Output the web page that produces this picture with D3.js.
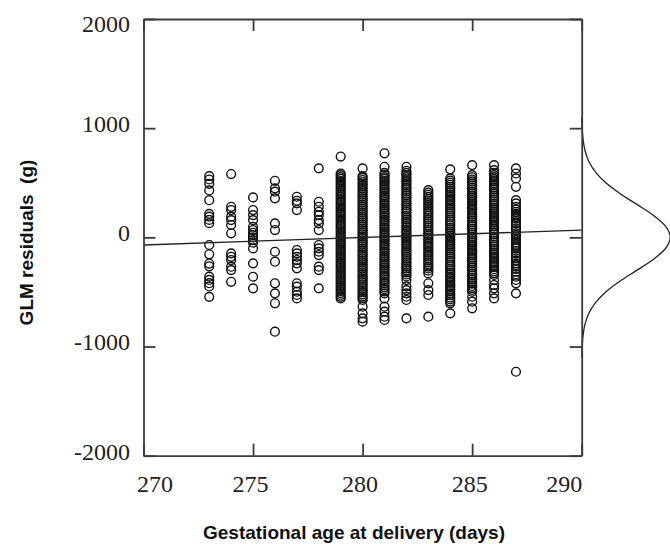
<!DOCTYPE html>
<html>
<head>
<meta charset="utf-8">
<script src="https://cdn.jsdelivr.net/npm/d3@7"></script>
<style>
  body { margin:0; background:#fff; }
  .tick-label { font-family:"Liberation Serif","Times New Roman",serif; font-size:24px; fill:#222; }
  .axis-label { font-family:"Liberation Sans",Arial,sans-serif; font-weight:bold; font-size:19px; fill:#111; white-space:pre; }
</style>
</head>
<body>
<svg id="resid" width="670" height="544"></svg>
<script>
const days = [273, 274, 275, 276, 277, 278, 279, 280, 281, 282, 283, 284, 285, 286, 287];

const r273 = [560, 530, 490, 430, 340, 215, 190, 160, 130, -70, -155, -240, -265, -360, -390, -420, -450, -545];
const r274 = [580, 280, 250, 189, 158, 113, 37, -147, -178, -208, -269, -300, -407];
const r275 = [366, 250, 204, 158, 97, 67, 42, 21, 0, -25, -49, -101, -238, -361, -467];
const r276 = [518, 449, 418, 357, 128, 67, -132, -223, -421, -513, -604, -864];
const r277 = [372, 335, 311, 250, -116, -147, -178, -208, -238, -284, -421, -452, -498, -528, -559];
const r278 = [632, 326, 280, 234, 204, 158, 128, 67, -70, -101, -132, -162, -269, -300, -467];
const r279 = [740, 585, 570, 552, 535, 515, 498, 480, 462, 445, 425, 405, 388, 370, 350, 332, 315, 296, 278, 260,
    240, 222, 205, 186, 168, 150, 130, 112, 95, 76, 58, 40, 20, 3, -15, -35, -52, -70, -90, -108, -125, -145,
    -163, -180, -200, -218, -236, -255, -272, -290, -310, -328, -345, -365, -382, -400, -420, -438, -455, -475,
    -492, -510, -528, -545, -560];
const r280 = [631, 561, 545, 525, 505, 488, 470, 450, 432, 412, 395, 375, 358, 340, 320, 302, 285, 265, 248, 230,
    210, 192, 175, 155, 138, 120, 100, 82, 65, 45, 28, 10, -8, -28, -45, -62, -82, -100, -118, -138, -155, -172,
    -192, -210, -228, -248, -265, -282, -302, -320, -338, -358, -375, -392, -412, -430, -448, -468, -485, -502,
    -522, -540, -556, -574, -635, -696, -742, -772];
const r281 = [770, 646, 590, 572, 552, 535, 515, 498, 478, 460, 442, 422, 405, 385, 368, 350, 330, 312, 295, 275,
    258, 240, 220, 202, 185, 165, 148, 130, 110, 92, 75, 55, 38, 20, 0, -18, -35, -55, -72, -90, -110, -128,
    -145, -165, -182, -200, -220, -238, -255, -275, -292, -310, -330, -348, -365, -385, -402, -420, -440, -458,
    -475, -495, -513, -559, -635, -681, -727, -757];
const r282 = [646, 610, 590, 570, 552, 532, 515, 495, 478, 458, 440, 420, 402, 385, 365, 348, 328, 310, 292, 272,
    255, 235, 218, 198, 180, 162, 142, 125, 105, 88, 68, 50, 32, 12, -5, -25, -42, -62, -80, -100, -118, -136,
    -155, -173, -192, -210, -228, -248, -265, -285, -302, -320, -340, -358, -391, -449, -483, -513, -544, -574, -742];
const r283 = [433, 410, 390, 372, 352, 335, 315, 295, 278, 258, 240, 222, 200, 182, 165, 145, 128, 108, 90, 70,
    52, 32, 15, -5, -22, -42, -60, -80, -98, -118, -135, -155, -172, -192, -210, -230, -248, -268, -285, -305,
    -330, -421, -483, -528, -727];
const r284 = [623, 540, 520, 500, 482, 462, 445, 425, 408, 388, 370, 350, 332, 312, 295, 275, 258, 238, 220, 200,
    182, 162, 145, 125, 108, 88, 70, 50, 32, 12, -5, -25, -42, -62, -80, -100, -118, -138, -155, -175, -192,
    -212, -230, -250, -268, -288, -305, -325, -342, -362, -380, -400, -418, -438, -455, -475, -492, -512, -530,
    -550, -568, -588, -604, -696];
const r285 = [662, 570, 550, 530, 512, 492, 475, 455, 438, 418, 400, 380, 362, 342, 325, 305, 288, 268, 250, 230,
    212, 192, 175, 155, 138, 118, 100, 80, 62, 42, 25, 5, -12, -32, -50, -70, -88, -108, -125, -145, -162, -182,
    -200, -220, -238, -258, -275, -295, -312, -332, -350, -370, -388, -408, -425, -445, -462, -482, -498, -544,
    -589, -650];
const r286 = [662, 616, 590, 570, 552, 532, 515, 495, 478, 458, 440, 420, 402, 382, 365, 345, 328, 308, 290, 270,
    252, 232, 215, 195, 178, 158, 140, 120, 102, 82, 65, 45, 28, 8, -10, -30, -48, -68, -85, -105, -122, -142,
    -160, -180, -198, -218, -235, -255, -272, -292, -310, -330, -345, -391, -437, -467, -513, -559];
const r287 = [631, 585, 540, 463, 341, 311, 280, 255, 234, 215, 204, 188, 173, 150, 128, 105, 82, 60, 37, 20, 6,
    -10, -25, -48, -70, -85, -101, -125, -147, -170, -192, -215, -238, -255, -269, -290, -315, -340, -361, -390,
    -421, -513, -1231];

const residuals = [r273, r274, r275, r276, r277, r278, r279, r280, r281, r282, r283, r284, r285, r286, r287];

// fitted line, two ends
const fitX = [270, 290];
const fitY = [-70, 67];

// density of residuals drawn on the right side (relative height)
const densVal = [-1100, -1000, -900, -800, -700, -600, -500, -400, -300, -200, -100, 0, 100, 200, 300, 400, 500, 600, 700, 800, 900, 1000, 1100];
const densH = [0.001, 0.006, 0.015, 0.036, 0.078, 0.154, 0.272, 0.435, 0.626, 0.812, 0.949, 1, 0.949, 0.812, 0.626, 0.435, 0.272, 0.154, 0.078, 0.036, 0.015, 0.006, 0.001];

const xTicks = [270, 275, 280, 285, 290];
const yTicks = [-2000, -1000, 0, 1000, 2000];

function residPlot(){
    const svg = d3.select('#resid');
    const width = +svg.attr('width');
    const height = +svg.attr('height');
    const margin = { top:19, right:88.3, bottom:88.3, left:143.5 };
    const innerWidth = width - margin.left - margin.right;
    const innerHeight = height - margin.top - margin.bottom;

    const xscale = d3.scaleLinear().domain([270, 290]).range([0, innerWidth]);
    const yscale = d3.scaleLinear().domain([-2000, 2000]).range([innerHeight, 0]);
    const dscale = d3.scaleLinear().domain([0, 1]).range([innerWidth, innerWidth + 88.5]);

    const plainFormat = d => String(d);   // keeps "-2000" with a hyphen, no commas

    const g = svg.append('g')
        .attr('transform', `translate(${margin.left},${margin.top})`);

    // points
    const pts = [];
    days.forEach((d, i) => residuals[i].forEach(v => pts.push({ day:d, res:v })));
    g.selectAll('circle').data(pts)
        .enter().append('circle')
            .attr('cx', d => xscale(d.day))
            .attr('cy', d => yscale(d.res))
            .attr('r', 4.4)
            .attr('fill', 'none')
            .attr('stroke', '#111')
            .attr('stroke-width', 1.4);

    // fitted line
    g.append('path')
        .datum(fitX.map((x, i) => [x, fitY[i]]))
        .attr('fill', 'none')
        .attr('stroke', '#222')
        .attr('stroke-width', 1.3)
        .attr('d', d3.line().x(d => xscale(d[0])).y(d => yscale(d[1])));

    // density curve
    g.append('path')
        .datum(densVal.map((v, i) => [v, densH[i]]))
        .attr('fill', 'none')
        .attr('stroke', '#222')
        .attr('stroke-width', 1.3)
        .attr('d', d3.line().curve(d3.curveMonotoneY).x(d => dscale(d[1])).y(d => yscale(d[0])));

    // axes, ticks pointing in on all four sides
    const axisStyle = sel => {
        sel.select('.domain').attr('stroke', '#3a3a3a').attr('stroke-width', 1.8);
        sel.selectAll('.tick line').attr('stroke', '#3a3a3a').attr('stroke-width', 1.8);
    };

    const xAxis = g.append('g')
        .attr('transform', `translate(0,${innerHeight})`)
        .call(d3.axisBottom(xscale).tickValues(xTicks).tickFormat(plainFormat).tickSizeInner(-12).tickSizeOuter(0).tickPadding(19))
        .call(axisStyle);
    xAxis.selectAll('text')
        .attr('class', 'tick-label')
        .attr('font-size', null).attr('font-family', null)
        .attr('dx', d => d === 270 ? -7 : (d === 290 ? 0 : -3))
        .attr('text-anchor', d => d === 270 ? 'start' : (d === 290 ? 'end' : 'middle'));

    g.append('g')
        .call(d3.axisTop(xscale).tickValues(xTicks).tickSizeInner(-12).tickSizeOuter(0).tickFormat(''))
        .call(axisStyle);

    const yAxis = g.append('g')
        .call(d3.axisLeft(yscale).tickValues(yTicks).tickFormat(plainFormat).tickSizeInner(-12).tickSizeOuter(0).tickPadding(13.5))
        .call(axisStyle);
    yAxis.selectAll('text')
        .attr('class', 'tick-label')
        .attr('font-size', null).attr('font-family', null)
        .attr('dy', d => d === 2000 ? '0.53em' : '0.14em');

    g.append('g')
        .attr('transform', `translate(${innerWidth},0)`)
        .call(d3.axisRight(yscale).tickValues(yTicks).tickSizeInner(-12).tickSizeOuter(0).tickFormat(''))
        .call(axisStyle);

    // titles
    svg.append('text')
        .attr('class', 'axis-label')
        .attr('x', 354)
        .attr('y', 539)
        .attr('text-anchor', 'middle')
        .text('Gestational age at delivery (days)');

    svg.append('text')
        .attr('class', 'axis-label')
        .attr('transform', 'translate(33,242.5) rotate(-90)')
        .attr('text-anchor', 'middle')
        .text('GLM residuals  (g)');
}

residPlot();
</script>
</body>
</html>
